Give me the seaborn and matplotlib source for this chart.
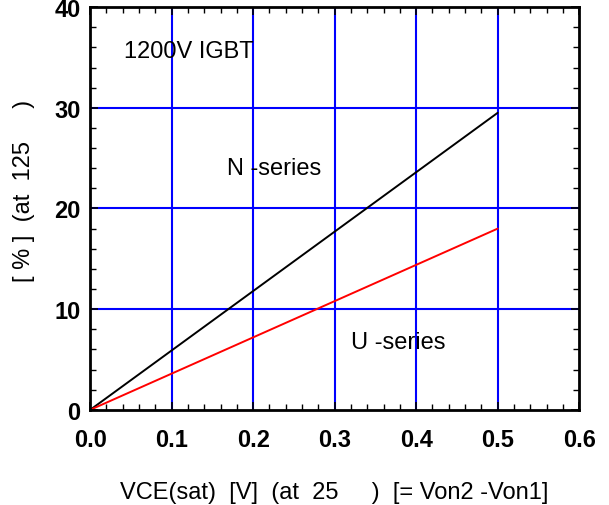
import pandas as pd
import matplotlib.pyplot as plt
import seaborn as sns
from matplotlib.ticker import MultipleLocator

# values
vce = [0.0, 0.5]
n_series = [0.0, 29.5]
u_series = [0.0, 18.0]
x_ticks = [0.0, 0.1, 0.2, 0.3, 0.4, 0.5, 0.6]
y_ticks = [0, 10, 20, 30, 40]

df = pd.DataFrame({
    "vce": vce * 2,
    "pct": n_series + u_series,
    "series": ["N"] * len(vce) + ["U"] * len(vce),
})

sns.set_style("white")
plt.rcParams['font.family'] = ['Liberation Sans', 'DejaVu Sans']
plt.rcParams['text.color'] = 'black'
plt.rcParams['axes.labelcolor'] = 'black'
plt.rcParams['xtick.color'] = 'black'
plt.rcParams['ytick.color'] = 'black'

fig = plt.figure(figsize=(6.09, 5.06), dpi=100)
ax = fig.add_axes([0.148, 0.188, 0.803, 0.796])

sns.lineplot(data=df, x="vce", y="pct", hue="series",
             palette={"N": "black", "U": "red"}, linewidth=1.4,
             legend=False, ax=ax)

ax.set_xlim(0, 0.6)
ax.set_ylim(0, 40)
ax.set_xticks(x_ticks)
ax.set_yticks(y_ticks)
ax.set_xticklabels([f"{t:.1f}" for t in x_ticks])
ax.xaxis.set_minor_locator(MultipleLocator(0.02))
ax.yaxis.set_minor_locator(MultipleLocator(2))

# blue grid at the inner major ticks
for t in x_ticks[1:-1]:
    ax.axvline(t, color="#0000ff", lw=1.5, zorder=0)
for t in y_ticks[1:-1]:
    ax.axhline(t, color="#0000ff", lw=1.5, zorder=0)

ax.tick_params(which="both", direction="in", top=True, right=True,
               bottom=True, left=True, labelsize=17)
ax.tick_params(which="major", length=6, width=1.2)
ax.tick_params(which="minor", length=4, width=1.0)
ax.tick_params(axis="x", which="major", pad=13)
ax.tick_params(axis="y", which="major", pad=7)
for lab in ax.get_xticklabels() + ax.get_yticklabels():
    lab.set_fontweight("bold")

for s in ax.spines.values():
    s.set_linewidth(2)
    s.set_color("black")

ax.set_xlabel("VCE(sat)  [V]  (at  25     )  [= Von2 -Von1]", fontsize=17,
              labelpad=22)
ax.set_ylabel("[ % ]  (at  125     )", fontsize=17)
ax.yaxis.set_label_coords(-0.112, 0.545)

ax.text(0.041, 35.6, "1200V IGBT", fontsize=17, va="center")
ax.text(0.168, 24.0, "N -series", fontsize=17, va="center")
ax.text(0.320, 6.7, "U -series", fontsize=17, va="center")

fig.savefig("out.png", dpi=100)
